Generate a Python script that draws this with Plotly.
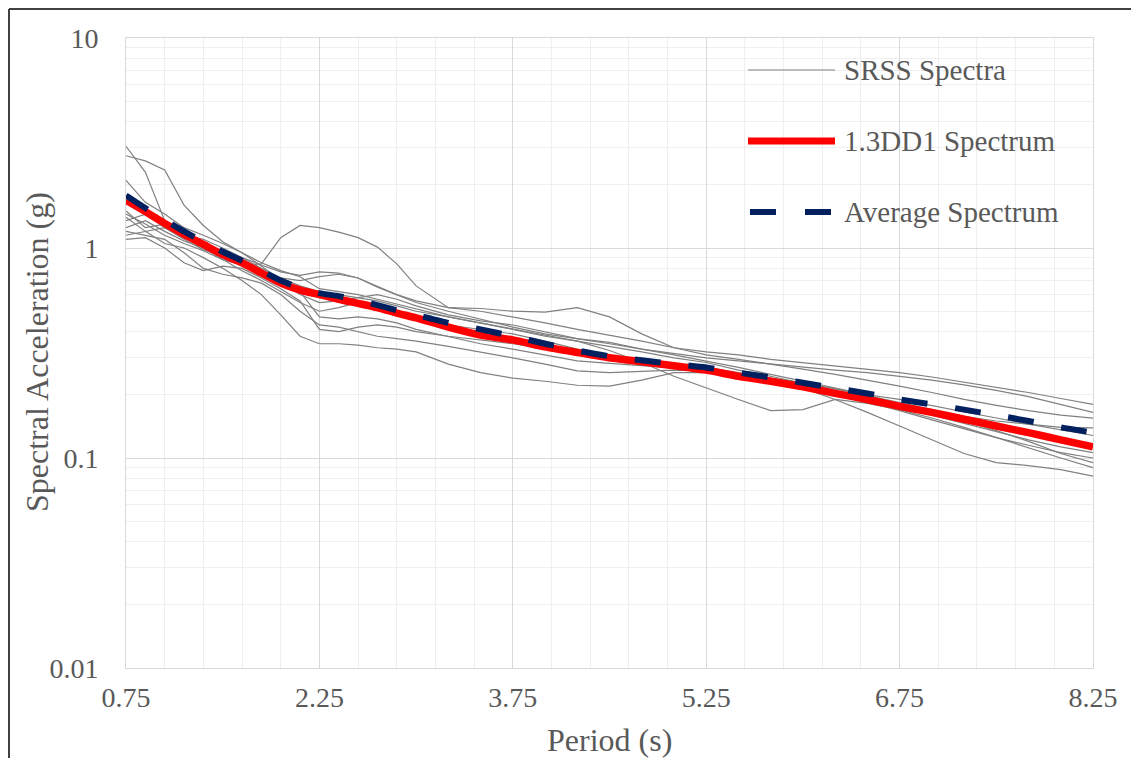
import plotly.graph_objects as go

# ---------------- data ----------------
period_smooth = [0.75, 0.9, 1.05, 1.2, 1.35, 1.5, 1.65, 1.8, 1.95, 2.1, 2.25, 2.4, 2.55, 2.7, 2.85, 3.0,
                 3.25, 3.5, 3.75, 4.0, 4.25, 4.5, 4.75, 5.0, 5.25, 5.5, 5.75, 6.0, 6.25, 6.5, 6.75,
                 7.0, 7.25, 7.5, 7.75, 8.0, 8.25]

dd1_spectrum = [1.69, 1.49, 1.31, 1.16, 1.04, 0.93, 0.85, 0.76, 0.68, 0.63, 0.60, 0.57, 0.545, 0.52, 0.49, 0.465,
                0.42, 0.385, 0.365, 0.338, 0.318, 0.30, 0.287, 0.275, 0.262, 0.245, 0.232, 0.218, 0.203, 0.19, 0.176,
                0.165, 0.153, 0.142, 0.132, 0.122, 0.113]

average_spectrum = [1.78, 1.55, 1.36, 1.20, 1.07, 0.96, 0.87, 0.78, 0.70, 0.645, 0.61, 0.59, 0.565, 0.535, 0.505, 0.48,
                    0.44, 0.41, 0.38, 0.35, 0.325, 0.305, 0.292, 0.28, 0.27, 0.255, 0.242, 0.228, 0.215, 0.203, 0.19,
                    0.18, 0.17, 0.16, 0.15, 0.14, 0.132]

srss_1 = [1.45, 1.30, 1.15, 1.05, 0.97, 0.88, 0.83, 0.84, 1.12, 1.28, 1.25, 1.19, 1.12, 1.01, 0.84, 0.66,
          0.52, 0.515, 0.50, 0.495, 0.52, 0.47, 0.39, 0.335, 0.32, 0.31, 0.295, 0.285, 0.275, 0.265, 0.255,
          0.243, 0.23, 0.218, 0.205, 0.192, 0.18]
srss_2 = [3.05, 2.30, 1.35, 1.15, 1.02, 0.95, 0.86, 0.78, 0.72, 0.70, 0.73, 0.75, 0.72, 0.66, 0.60, 0.56,
          0.52, 0.50, 0.47, 0.44, 0.41, 0.385, 0.36, 0.335, 0.31, 0.295, 0.28, 0.265, 0.25, 0.235, 0.22,
          0.205, 0.19, 0.178, 0.168, 0.16, 0.155]
srss_3 = [2.75, 2.60, 2.35, 1.60, 1.28, 1.07, 0.95, 0.85, 0.78, 0.73, 0.64, 0.62, 0.60, 0.57, 0.54, 0.51,
          0.47, 0.44, 0.41, 0.385, 0.36, 0.34, 0.32, 0.30, 0.285, 0.262, 0.245, 0.227, 0.213, 0.20, 0.19,
          0.178, 0.166, 0.155, 0.145, 0.136, 0.128]
srss_4 = [2.10, 1.65, 1.45, 1.25, 1.15, 1.05, 0.95, 0.82, 0.70, 0.60, 0.55, 0.56, 0.58, 0.60, 0.57, 0.53,
          0.48, 0.45, 0.43, 0.40, 0.37, 0.355, 0.33, 0.31, 0.29, 0.27, 0.25, 0.232, 0.215, 0.20, 0.18,
          0.168, 0.158, 0.15, 0.145, 0.14, 0.139]
srss_5 = [1.50, 1.25, 1.30, 1.18, 1.00, 0.88, 0.78, 0.70, 0.62, 0.55, 0.50, 0.52, 0.55, 0.53, 0.50, 0.46,
          0.43, 0.41, 0.39, 0.36, 0.33, 0.31, 0.29, 0.275, 0.26, 0.25, 0.24, 0.228, 0.214, 0.198, 0.183,
          0.17, 0.155, 0.143, 0.133, 0.124, 0.116]
srss_6 = [1.40, 1.20, 1.05, 1.00, 0.90, 0.80, 0.70, 0.60, 0.48, 0.38, 0.35, 0.35, 0.345, 0.335, 0.33, 0.32,
          0.28, 0.255, 0.24, 0.232, 0.222, 0.22, 0.235, 0.255, 0.255, 0.245, 0.232, 0.22, 0.205, 0.19, 0.175,
          0.16, 0.146, 0.133, 0.122, 0.113, 0.106]
srss_7 = [1.25, 1.35, 1.20, 1.08, 1.00, 0.96, 0.90, 0.80, 0.72, 0.66, 0.62, 0.60, 0.58, 0.56, 0.53, 0.50,
          0.47, 0.44, 0.41, 0.38, 0.36, 0.325, 0.285, 0.245, 0.215, 0.19, 0.168, 0.17, 0.19, 0.182, 0.17,
          0.155, 0.14, 0.125, 0.112, 0.10, 0.09]
srss_8 = [1.20, 1.15, 1.10, 0.95, 0.80, 0.75, 0.72, 0.68, 0.60, 0.50, 0.43, 0.42, 0.40, 0.38, 0.37, 0.36,
          0.34, 0.32, 0.30, 0.28, 0.26, 0.255, 0.258, 0.262, 0.26, 0.25, 0.236, 0.215, 0.19, 0.165, 0.142,
          0.122, 0.105, 0.095, 0.092, 0.088, 0.082]
srss_9 = [1.35, 1.45, 1.25, 1.10, 0.98, 0.92, 0.86, 0.78, 0.70, 0.62, 0.47, 0.46, 0.47, 0.46, 0.44, 0.41,
          0.38, 0.35, 0.33, 0.31, 0.29, 0.282, 0.275, 0.27, 0.262, 0.25, 0.235, 0.22, 0.203, 0.185, 0.168,
          0.152, 0.138, 0.125, 0.115, 0.106, 0.10]
srss_10 = [1.15, 1.20, 1.25, 1.15, 1.10, 1.00, 0.90, 0.83, 0.77, 0.74, 0.77, 0.76, 0.72, 0.65, 0.60, 0.55,
           0.50, 0.46, 0.42, 0.39, 0.37, 0.35, 0.33, 0.315, 0.30, 0.29, 0.28, 0.272, 0.262, 0.255, 0.245,
           0.235, 0.223, 0.21, 0.196, 0.18, 0.165]
srss_11 = [1.10, 1.12, 1.00, 0.85, 0.78, 0.82, 0.80, 0.72, 0.64, 0.56, 0.41, 0.40, 0.42, 0.43, 0.42, 0.40,
           0.38, 0.365, 0.35, 0.33, 0.31, 0.30, 0.29, 0.28, 0.27, 0.255, 0.24, 0.225, 0.21, 0.195, 0.18,
           0.165, 0.15, 0.135, 0.12, 0.105, 0.095]

srss_spectra = [srss_1, srss_2, srss_3, srss_4, srss_5, srss_6, srss_7, srss_8, srss_9, srss_10, srss_11]

x_tick_values = [0.75, 2.25, 3.75, 5.25, 6.75, 8.25]
x_tick_labels = ["0.75", "2.25", "3.75", "5.25", "6.75", "8.25"]
y_tick_values = [0.01, 0.1, 1, 10]
y_tick_labels = ["0.01", "0.1", "1", "10"]

legend_labels = ["SRSS Spectra", "1.3DD1 Spectrum", "Average Spectrum"]

# ---------------- styles ----------------
FONT = "'Liberation Serif', 'Times New Roman', serif"
TEXT = "#595959"
GRAY = "#808080"
RED = "#ff0000"
NAVY = "#002060"

W, H = 1139, 758
OFF = 8                      # page body margin offset
PL, PR, PT, PB = 126, 1093, 38, 668   # target plot-area box in page pixels
PW, PH = PR - PL, PB - PT
ML, MT = PL - OFF, PT - OFF
MR = W - ML - PW
MB = H - MT - PH


def px(xp):
    return (xp - PL) / PW


def py(yp):
    return (PB - yp) / PH


fig = go.Figure()

for s in srss_spectra:
    fig.add_trace(go.Scatter(x=period_smooth, y=s, mode="lines",
                             line=dict(color=GRAY, width=1.2), showlegend=False, hoverinfo="skip"))

fig.add_trace(go.Scatter(x=period_smooth, y=dd1_spectrum, mode="lines",
                         line=dict(color=RED, width=7.5, shape="spline", smoothing=0.6), showlegend=False))
fig.add_trace(go.Scatter(x=period_smooth, y=average_spectrum, mode="lines",
                         line=dict(color=NAVY, width=6, dash="26px,28px", shape="spline", smoothing=0.6),
                         showlegend=False))

minor_y = [k * 10.0 ** e for e in (-2, -1, 0) for k in range(2, 10)]

fig.update_xaxes(range=[0.75, 8.25], tickvals=x_tick_values, ticktext=x_tick_labels,
                 showgrid=True, gridcolor="#d9d9d9", gridwidth=1,
                 minor=dict(dtick=0.3, tick0=0.75, showgrid=True, gridcolor="#efefef", gridwidth=1),
                 showline=True, linecolor="#d9d9d9", linewidth=1, mirror=True,
                 ticks="", zeroline=False, ticklabelstandoff=4,
                 tickfont=dict(family=FONT, size=28, color=TEXT))
fig.update_yaxes(type="log", range=[-2, 1], tickvals=y_tick_values, ticktext=y_tick_labels,
                 showgrid=True, gridcolor="#d9d9d9", gridwidth=1,
                 minor=dict(tickvals=minor_y, showgrid=True, gridcolor="#efefef", gridwidth=1),
                 showline=True, linecolor="#d9d9d9", linewidth=1, mirror=True,
                 ticks="", zeroline=False, ticklabelstandoff=21,
                 tickfont=dict(family=FONT, size=28, color=TEXT))

shapes = []
annotations = []

# outer frame (top and left edges visible)
shapes.append(dict(type="line", xref="paper", yref="paper", x0=px(9), x1=px(W + 20), y0=py(9), y1=py(9),
                   line=dict(color="#404040", width=2)))
shapes.append(dict(type="line", xref="paper", yref="paper", x0=px(9), x1=px(9), y0=py(9), y1=py(H + 20),
                   line=dict(color="#404040", width=2)))

# manual legend
leg_y = [70, 141, 212]
shapes.append(dict(type="line", xref="paper", yref="paper", x0=px(748), x1=px(835), y0=py(leg_y[0]), y1=py(leg_y[0]),
                   line=dict(color=GRAY, width=1.2)))
shapes.append(dict(type="line", xref="paper", yref="paper", x0=px(748), x1=px(835), y0=py(leg_y[1]), y1=py(leg_y[1]),
                   line=dict(color=RED, width=7)))
shapes.append(dict(type="line", xref="paper", yref="paper", x0=px(750), x1=px(776), y0=py(leg_y[2]), y1=py(leg_y[2]),
                   line=dict(color=NAVY, width=6)))
shapes.append(dict(type="line", xref="paper", yref="paper", x0=px(805), x1=px(831), y0=py(leg_y[2]), y1=py(leg_y[2]),
                   line=dict(color=NAVY, width=6)))
for lab, yy in zip(legend_labels, leg_y):
    annotations.append(dict(text=lab, xref="paper", yref="paper", x=px(842), y=py(yy), xanchor="left",
                            yanchor="middle", showarrow=False, font=dict(family=FONT, size=29, color=TEXT)))

# axis titles
annotations.append(dict(text="Period (s)", xref="paper", yref="paper", x=0.5, y=py(740), xanchor="center",
                        yanchor="middle", showarrow=False, font=dict(family=FONT, size=32, color=TEXT)))
annotations.append(dict(text="Spectral Acceleration (g)", xref="paper", yref="paper", x=px(37), y=py(352),
                        xanchor="center", yanchor="middle", textangle=-90, showarrow=False,
                        font=dict(family=FONT, size=32, color=TEXT)))

fig.update_layout(width=W, height=H, margin=dict(l=ML, r=MR, t=MT, b=MB),
                  paper_bgcolor="white", plot_bgcolor="white", showlegend=False,
                  shapes=shapes, annotations=annotations)

fig.write_html("out.html")
